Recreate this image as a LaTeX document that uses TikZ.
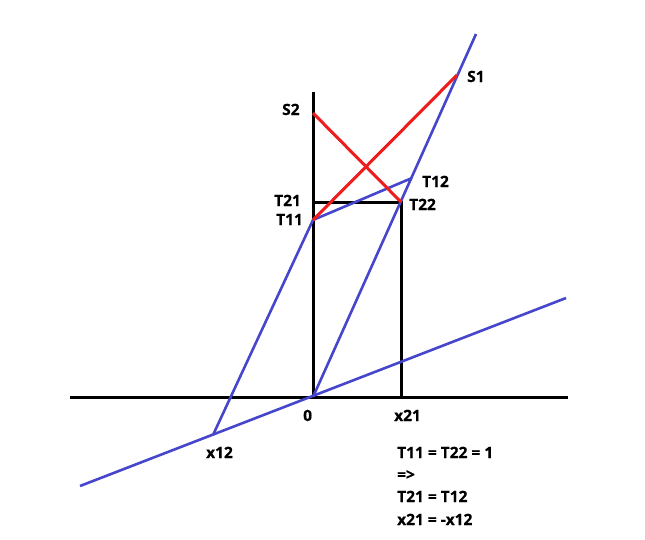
\documentclass[tikz,border=0pt]{standalone}
\usepackage{fontspec}
\setmainfont[FakeBold=0.6]{Open Sans}
\usetikzlibrary{positioning}
\definecolor{lnBlue}{HTML}{4646CC}
\definecolor{lnRed} {HTML}{EE1C1C}

\begin{document}
\begin{tikzpicture}[x=1pt,y=-1pt,font=\fontsize{15.5}{19}\selectfont\bfseries,
        ax/.style={draw=black,line width=3pt},
        bl/.style={draw=lnBlue,line width=2.6pt},
        rd/.style={draw=lnRed,line width=3pt},
        lbl/.style={inner sep=0pt,anchor=base west}]
        \useasboundingbox (0,0) rectangle (645,539);
        % points
        \coordinate (o)   at (313,397);
        \coordinate (xl)  at (70,397);
        \coordinate (xr)  at (568,397);
        \coordinate (yt)  at (313,92);
        \coordinate (x12) at (213,435);
        \coordinate (x21) at (401,397);
        \coordinate (t11) at (313,220);
        \coordinate (t12) at (412,178);
        \coordinate (t21) at (313,202);
        \coordinate (t22) at (401,202);
        \coordinate (s1)  at (457,75);
        \coordinate (s2)  at (313,113);
        \coordinate (ls)  at (80,486);
        \coordinate (le)  at (566,298);
        \coordinate (ts)  at (476,34);
        % axes
        \draw[ax] (xl) -- (xr);
        \draw[ax] (o) -- (yt);
        \draw[ax] (t21) -- (t22) -- (x21);
        % blue lines
        \draw[bl] (ls) -- (le);
        \draw[bl] (x12) -- (t11) -- (t12);
        \draw[bl] (o) -- (ts);
        % red lines
        \draw[rd] (t11) -- (s1);
        \draw[rd] (s2) -- (t22);
        % labels
        \node[lbl] (ls1)  at (467,82)  {S1};
        \node[lbl] (ls2)  at (282,115) {S2};
        \node[lbl] (lt12) at (422,187) {T12};
        \node[lbl] (lt22) at (409,210) {T22};
        \node[lbl] (lt21) at (274,206) {T21};
        \node[lbl] (lt11) at (276,225) {T11};
        \node[lbl] (lo)   at (303,421) {0};
        \node[lbl] (lx21) at (394,421) {x21};
        \node[lbl] (lx12) at (206,458) {x12};
        \node[lbl] (n1)   at (397,458) {T11 = T22 = 1};
        \node[lbl] (n2)   at (397,480) {=>};
        \node[lbl] (n3)   at (397,502) {T21 = T12};
        \node[lbl] (n4)   at (397,525) {x21 = -x12};
\end{tikzpicture}
\end{document}
